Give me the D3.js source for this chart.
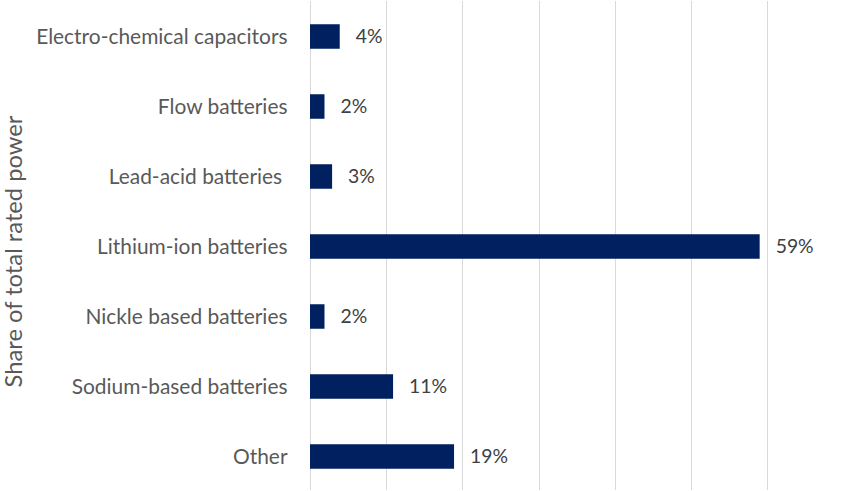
<!DOCTYPE html>
<html>
<head>
<meta charset="utf-8">
<script src="https://cdn.jsdelivr.net/npm/d3@7/dist/d3.min.js"></script>
<style>
  html, body { margin: 0; padding: 0; background: #fff; }
  svg { display: block; }
  text { font-family: Lato, "Open Sans", sans-serif; white-space: pre; }
</style>
</head>
<body>
<svg id="chart" width="844" height="491"></svg>
<script>
const categories = [
  "Electro-chemical capacitors",
  "Flow batteries",
  "Lead-acid batteries ",
  "Lithium-ion batteries",
  "Nickle based batteries",
  "Sodium-based batteries",
  "Other"
];
const values = [3.9, 1.9, 2.9, 59.0, 1.9, 10.9, 18.9];
const valueLabels = ["4%", "2%", "3%", "59%", "2%", "11%", "19%"];
const gridTicks = [0, 10, 20, 30, 40, 50, 60, 70];
const axisTitle = "Share of total rated power";

const W = 844, H = 491;
const svg = d3.select("#chart");

const x = d3.scaleLinear().domain([0, 70]).range([310, 843.5]);
const y = d3.scaleBand().domain(categories).range([1.5, 491.5])
  .paddingInner(0.65).paddingOuter(0.325);

// gridlines
svg.append("g").selectAll("line").data(gridTicks).join("line")
  .attr("x1", d => Math.round(x(d)) + 0.5).attr("x2", d => Math.round(x(d)) + 0.5)
  .attr("y1", 1).attr("y2", 490)
  .attr("stroke", "#d9d9d9").attr("stroke-width", 1);

// bars
svg.append("g").selectAll("rect").data(values).join("rect")
  .attr("x", x(0))
  .attr("y", (d, i) => y(categories[i]))
  .attr("width", d => x(d) - x(0))
  .attr("height", y.bandwidth())
  .attr("fill", "#002060");

// helper to fit font size to a target width
function fitSize(str, target) {
  const t = svg.append("text").attr("font-size", 100).text(str);
  const w = t.node().getComputedTextLength();
  t.remove();
  return 100 * target / w;
}
const catSize = fitSize("Electro-chemical capacitors", 251.5);
const valSize = fitSize("59%", 38);
const titleSize = fitSize(axisTitle, 272);

// category labels
svg.append("g").selectAll("text").data(categories).join("text")
  .attr("x", 287.5)
  .attr("y", d => y(d) + y.bandwidth() / 2)
  .attr("dy", "0.35em")
  .attr("text-anchor", "end")
  .attr("font-size", catSize)
  .attr("fill", "#595959")
  .text(d => d);

// value labels
svg.append("g").selectAll("text").data(values).join("text")
  .attr("x", d => x(d) + 16)
  .attr("y", (d, i) => y(categories[i]) + y.bandwidth() / 2)
  .attr("dy", "0.35em")
  .attr("font-size", valSize)
  .attr("fill", "#404040")
  .text((d, i) => valueLabels[i]);

// axis title
svg.append("text")
  .attr("transform", "translate(22,251.5) rotate(-90)")
  .attr("text-anchor", "middle")
  .attr("font-size", titleSize)
  .attr("fill", "#595959")
  .text(axisTitle);
</script>
</body>
</html>
